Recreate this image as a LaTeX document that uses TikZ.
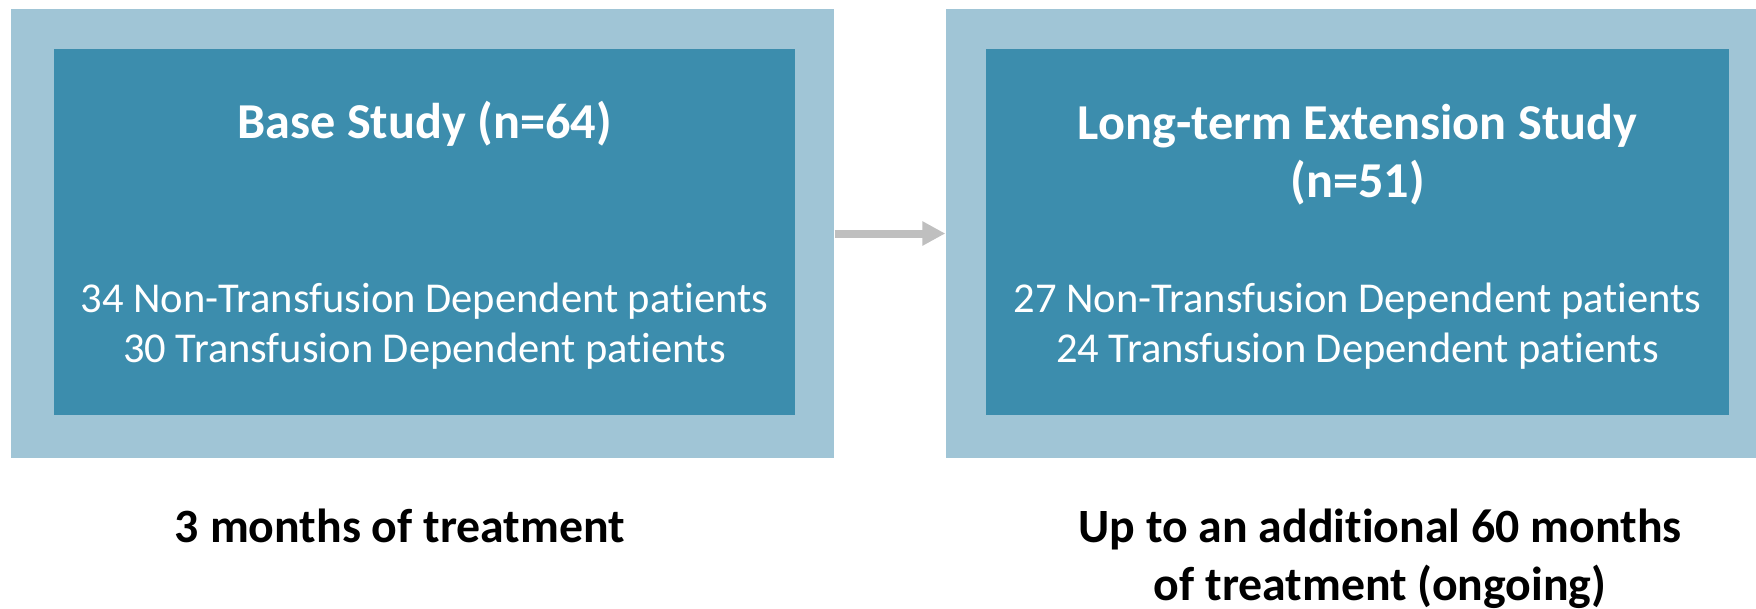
\documentclass[tikz,border=0pt]{standalone}
\usepackage{fontspec}
\setmainfont{Carlito}[RawFeature=-liga,RawFeature=-clig,RawFeature=-calt,RawFeature=-dlig]
\usetikzlibrary{arrows.meta,positioning}

\definecolor{paleblue}{RGB}{160,197,214}
\definecolor{deepblue}{RGB}{60,141,173}
\definecolor{arrowgray}{RGB}{191,191,191}

\tikzset{
	frame/.style={fill=paleblue,inner sep=0,minimum height=4.49cm},
	panel/.style={fill=deepblue,inner sep=0,minimum height=3.66cm},
	heading/.style={text=white,font=\fontsize{14.3}{16.5}\selectfont\bfseries,align=center,anchor=base},
	counts/.style={text=white,font=\fontsize{12.1}{14.2}\selectfont,anchor=base},
	period/.style={font=\fontsize{13.6}{15.9}\selectfont\bfseries,anchor=base},
	flow/.style={draw=arrowgray,line width=0.8mm,-{Triangle[length=2.3mm,width=2.3mm]}}
}

\begin{document}
\begin{tikzpicture}
	\useasboundingbox (0,0) rectangle (17.56,6.08);

	% base study
	\node[frame,minimum width=8.23cm] (baseFrame) at (4.225,3.745) {};
	\node[panel,minimum width=7.41cm] (basePanel) at (4.245,3.76) {};
	\node[heading] (baseTitle) at ([yshift=-9.05mm]basePanel.north) {Base Study (n=64)};
	\node[counts] (baseNTD) at ([yshift=-26.45mm]basePanel.north) {34 Non-Transfusion Dependent patients};
	\node[counts] (baseTD) at ([yshift=-31.45mm]basePanel.north) {30 Transfusion Dependent patients};

	% extension study
	\node[frame,minimum width=8.10cm] (extFrame) at (13.51,3.745) {};
	\node[panel,minimum width=7.43cm] (extPanel) at (13.575,3.76) {};
	\node[heading] (extTitle) at ([yshift=-9.15mm]extPanel.north) {Long-term Extension Study};
	\node[heading] (extN) at ([yshift=-14.95mm]extPanel.north) {(n=51)};
	\node[counts] (extNTD) at ([yshift=-26.45mm]extPanel.north) {27 Non-Transfusion Dependent patients};
	\node[counts] (extTD) at ([yshift=-31.45mm]extPanel.north) {24 Transfusion Dependent patients};

	\draw[flow] (baseFrame.east) -- (extFrame.west);

	% durations
	\node[period] (baseTime) at (4.00,0.66) {3 months of treatment};
	\node[period] (extTime) at (13.80,0.66) {Up to an additional 60 months};
	\node[period] (extTimeB) at (13.80,0.08) {of treatment (ongoing)};
\end{tikzpicture}
\end{document}
